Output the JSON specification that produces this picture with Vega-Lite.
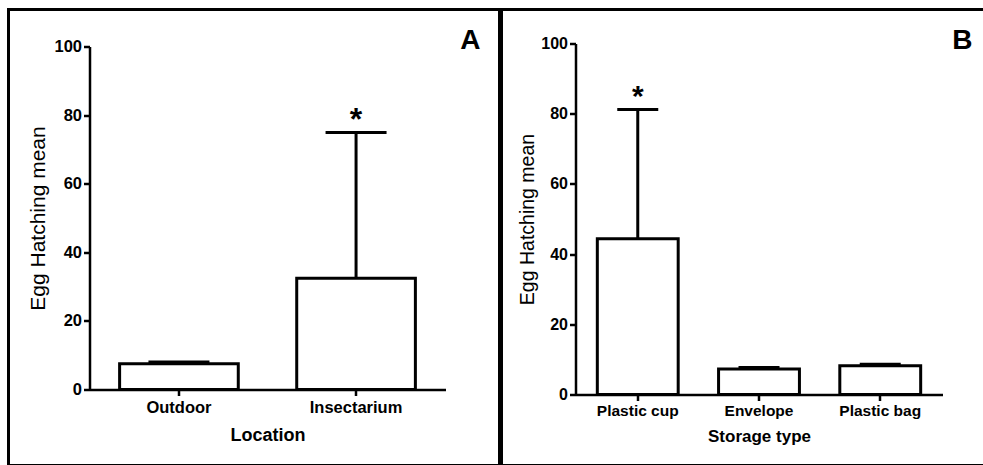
{
  "$schema": "https://vega.github.io/schema/vega-lite/v6.json",
  "padding": {"left": 6.5, "top": 7.5, "right": -3, "bottom": -1.5},
  "spacing": -3,
  "background": "white",
  "config": {
    "view": {"stroke": "#000000", "strokeWidth": 3},
    "font": "Liberation Sans",
    "axis": {
      "grid": false,
      "domainColor": "#000000",
      "domainWidth": 2.5,
      "tickColor": "#000000",
      "tickWidth": 2.5,
      "labelColor": "#000000",
      "titleColor": "#000000",
      "labelFont": "Liberation Sans",
      "labelFontWeight": "bold",
      "titleFont": "Liberation Sans"
    }
  },
  "datasets": {
    "a": [
      {"location": "Outdoor", "mean": 7.5, "upper": 8.0, "sig": ""},
      {"location": "Insectarium", "mean": 32.4, "upper": 74.9, "sig": "*"}
    ],
    "b": [
      {"storage": "Plastic cup", "mean": 44.4, "upper": 81.2, "sig": "*"},
      {"storage": "Envelope", "mean": 7.3, "upper": 7.7, "sig": ""},
      {"storage": "Plastic bag", "mean": 8.2, "upper": 8.6, "sig": ""}
    ]
  },
  "hconcat": [
    {
      "width": 491,
      "height": 456,
      "title": {"text": "A", "anchor": "end", "frame": "group", "offset": -67.5, "dx": -19, "fontSize": 28, "fontWeight": "bold", "baseline": "alphabetic", "color": "#000000", "font": "Liberation Sans"},
      "data": {"name": "a"},
      "encoding": {
        "x": {
          "field": "location", "type": "nominal", "sort": null,
          "scale": {"range": [81, 437], "paddingInner": 0.33, "paddingOuter": 0.17},
          "axis": {"title": "Location", "labelAngle": 0, "offset": -76, "tickSize": 6, "labelPadding": 4, "labelFontSize": 16.5, "titleFontSize": 18, "titleFontWeight": "bold", "titlePadding": 10}
        }
      },
      "layer": [
        {
          "mark": {"type": "bar", "fill": "white", "stroke": "black", "strokeWidth": 3},
          "encoding": {
            "y": {
              "field": "mean", "type": "quantitative", "title": "Egg Hatching mean",
              "scale": {"domain": [0, 100], "range": [380, 37], "nice": false},
              "axis": {"offset": -81, "values": [0, 20, 40, 60, 80, 100], "tickSize": 6, "labelPadding": 2, "labelFontSize": 16.5, "titleFontSize": 21, "titleFontWeight": "normal", "titlePadding": 5}
            }
          }
        },
        {
          "mark": {"type": "rule", "strokeWidth": 3, "color": "black"},
          "encoding": {
            "y": {"field": "mean", "type": "quantitative", "title": "Egg Hatching mean"},
            "y2": {"field": "upper"}
          }
        },
        {
          "mark": {"type": "tick", "thickness": 3, "size": 61, "color": "black", "opacity": 1},
          "encoding": {
            "y": {"field": "upper", "type": "quantitative", "title": "Egg Hatching mean"}
          }
        },
        {
          "mark": {"type": "text", "fontSize": 32, "fontWeight": "bold", "baseline": "alphabetic", "dy": -3, "color": "black"},
          "encoding": {
            "y": {"field": "upper", "type": "quantitative", "title": "Egg Hatching mean"},
            "text": {"field": "sig"}
          }
        }
      ]
    },
    {
      "width": 485,
      "height": 456,
      "view": {"stroke": "#000000", "strokeWidth": 3, "strokeDash": [485, 456, 1400, 0]},
      "title": {"text": "B", "anchor": "end", "frame": "group", "offset": -67.5, "dx": -14, "fontSize": 28, "fontWeight": "bold", "baseline": "alphabetic", "color": "#000000", "font": "Liberation Sans"},
      "data": {"name": "b"},
      "encoding": {
        "x": {
          "field": "storage", "type": "nominal", "sort": null,
          "scale": {"range": [74, 441], "paddingInner": 0.333, "paddingOuter": 0.18},
          "axis": {"title": "Storage type", "labelAngle": 0, "offset": -71, "tickSize": 6, "labelPadding": 3, "labelFontSize": 15.5, "titleFontSize": 17, "titleFontWeight": "bold", "titlePadding": 9}
        }
      },
      "layer": [
        {
          "mark": {"type": "bar", "fill": "white", "stroke": "black", "strokeWidth": 3},
          "encoding": {
            "y": {
              "field": "mean", "type": "quantitative", "title": "Egg Hatching mean",
              "scale": {"domain": [0, 100], "range": [385, 34], "nice": false},
              "axis": {"offset": -74, "values": [0, 20, 40, 60, 80, 100], "tickSize": 6, "labelPadding": 2, "labelFontSize": 16, "titleFontSize": 19.5, "titleFontWeight": "normal", "titlePadding": 3}
            }
          }
        },
        {
          "mark": {"type": "rule", "strokeWidth": 3, "color": "black"},
          "encoding": {
            "y": {"field": "mean", "type": "quantitative", "title": "Egg Hatching mean"},
            "y2": {"field": "upper"}
          }
        },
        {
          "mark": {"type": "tick", "thickness": 3, "size": 41, "color": "black", "opacity": 1},
          "encoding": {
            "y": {"field": "upper", "type": "quantitative", "title": "Egg Hatching mean"}
          }
        },
        {
          "mark": {"type": "text", "fontSize": 30, "fontWeight": "bold", "baseline": "alphabetic", "dy": -3, "color": "black"},
          "encoding": {
            "y": {"field": "upper", "type": "quantitative", "title": "Egg Hatching mean"},
            "text": {"field": "sig"}
          }
        }
      ]
    }
  ]
}
